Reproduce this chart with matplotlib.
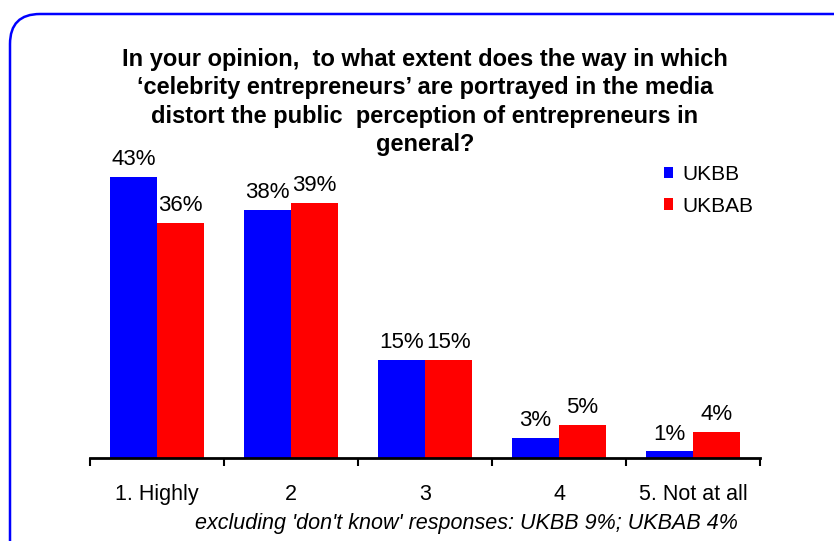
import numpy as np
import matplotlib.pyplot as plt
from matplotlib.patches import FancyBboxPatch

plt.rcParams['font.family'] = ['Liberation Sans', 'DejaVu Sans']

categories = ['1. Highly', '2', '3', '4', '5. Not at all']
ukbb = [43, 38, 15, 3, 1]
ukbab = [36, 39, 15, 5, 4]

title_lines = ["In your opinion,  to what extent does the way in which",
               "\u2018celebrity entrepreneurs\u2019 are portrayed in the media",
               "distort the public  perception of entrepreneurs in",
               "general?"]
note = "excluding 'don't know' responses: UKBB 9%; UKBAB 4%"

W, H = 834, 541
fig = plt.figure(figsize=(W / 100, H / 100), dpi=100)

# background layer in pixel units for the rounded frame
bg = fig.add_axes([0, 0, 1, 1])
bg.set_xlim(0, W)
bg.set_ylim(H, 0)
bg.axis('off')
bg.add_patch(FancyBboxPatch((10, 14), 860, 560,
                            boxstyle='round,pad=0,rounding_size=30',
                            fc='white', ec='#0000FF', lw=1.8))

ax = fig.add_axes([90 / W, (H - 458) / H, 670 / W, 308 / H])
ax.patch.set_alpha(0)
x = np.arange(len(categories))
w = 0.35
b1 = ax.bar(x - w / 2, ukbb, w, color='#0000FF', label='UKBB')
b2 = ax.bar(x + w / 2, ukbab, w, color='#FF0000', label='UKBAB')

for bars, vals in ((b1, ukbb), (b2, ukbab)):
    for r, v in zip(bars, vals):
        ax.annotate(f'{v}%', (r.get_x() + r.get_width() / 2, v),
                    xytext=(0, 5), textcoords='offset points',
                    ha='center', va='bottom', fontsize=16)

ax.set_xlim(-0.5, len(categories) - 0.5)
ax.set_ylim(0, 308 / 6.53)
ax.set_yticks([])
for s in ('left', 'right', 'top'):
    ax.spines[s].set_visible(False)
ax.spines['bottom'].set_linewidth(2)

# ticks sit between categories, labels under each category
ax.set_xticks(np.arange(len(categories) + 1) - 0.5)
ax.set_xticklabels([])
ax.tick_params(axis='x', which='major', length=6, width=1.5, direction='out')
ax.set_xticks(x, minor=True)
ax.set_xticklabels(categories, minor=True, fontsize=15.5)
ax.tick_params(axis='x', which='minor', length=0, pad=19)

# title, one baseline per line
for i, line in enumerate(title_lines):
    bg.text(425, 66 + 28.4 * i, line, ha='center', va='baseline',
            fontsize=17, fontweight='bold')
bg.text(466, 524, note, ha='center', va='center',
        fontsize=15.5, style='italic')

fig.legend(loc='upper left', bbox_to_anchor=(664 / W, 1 - 165 / H),
           frameon=False, fontsize=15, handlelength=0.45, handleheight=0.45,
           handletextpad=0.45, labelspacing=0.6, borderpad=0,
           borderaxespad=0)

fig.savefig('out.png', dpi=100)
